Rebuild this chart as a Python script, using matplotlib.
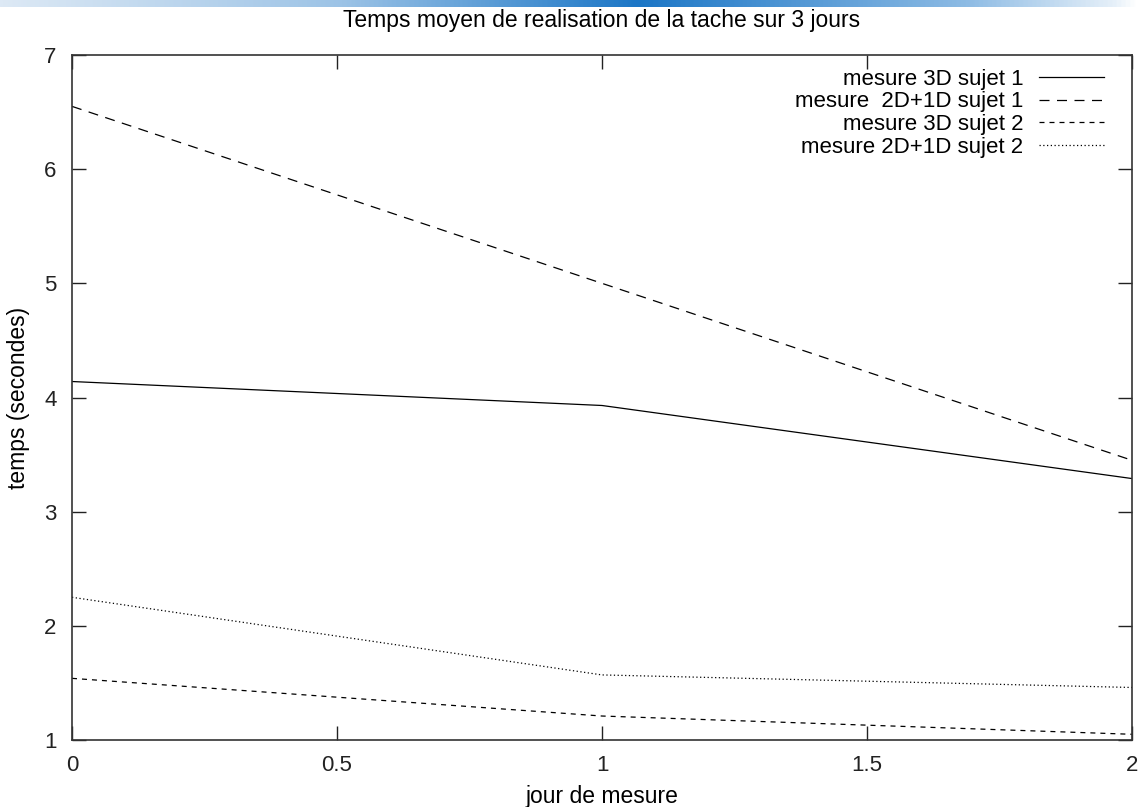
import numpy as np
import matplotlib.pyplot as plt
from matplotlib.colors import LinearSegmentedColormap

plt.rcParams['font.family'] = ['Liberation Sans', 'DejaVu Sans']

# jours de mesure
jours = [0, 1, 2]
# temps moyen (secondes)
t_3d_s1 = [4.14, 3.93, 3.29]
t_2d1d_s1 = [6.55, 5.00, 3.45]
t_3d_s2 = [1.54, 1.21, 1.05]
t_2d1d_s2 = [2.25, 1.57, 1.46]

labels = ['mesure 3D sujet 1', 'mesure  2D+1D sujet 1',
          'mesure 3D sujet 2', 'mesure 2D+1D sujet 2']
xticks = [0, 0.5, 1, 1.5, 2]
yticks = [1, 2, 3, 4, 5, 6, 7]

fig = plt.figure(figsize=(11.39, 8.07), dpi=100)

# bandeau bleu en haut
bar = fig.add_axes([0, 1 - 7 / 807, 1, 7 / 807])
cmap = LinearSegmentedColormap.from_list(
    'banner', [(0, '#dde9f5'), (0.3, '#9cc3e6'), (0.56, '#1b76c6'),
               (0.85, '#8dbbe4'), (0.98, '#e6f0f9'), (1, 'white')])
bar.imshow(np.linspace(0, 1, 512)[None, :], aspect='auto', cmap=cmap)
bar.axis('off')

ax = fig.add_axes([72 / 1139, 1 - 740 / 807, (1132 - 72) / 1139, (740 - 55) / 807])
lw = 0.9
ax.plot(jours, t_3d_s1, color='black', lw=lw, label=labels[0])
ax.plot(jours, t_2d1d_s1, color='black', lw=lw, dashes=(8, 6), label=labels[1])
ax.plot(jours, t_3d_s2, color='black', lw=lw, dashes=(4, 4), label=labels[2])
ax.plot(jours, t_2d1d_s2, color='black', lw=lw, dashes=(1, 2), label=labels[3])

ax.set_xlim(0, 2)
ax.set_ylim(1, 7)
ax.set_xticks(xticks)
ax.set_xticklabels(['0', '0.5', '1', '1.5', '2'])
ax.set_yticks(yticks)
ax.tick_params(direction='in', length=10, width=1, top=True, right=True,
               labelsize=16, pad=11, colors='#222222')
for s in ax.spines.values():
    s.set_linewidth(1.2)
    s.set_color('#333333')

ax.text(0.5, 1 + 35 / 685, 'Temps moyen de realisation de la tache sur 3 jours',
        transform=ax.transAxes, ha='center', va='center', fontsize=16.5)
ax.set_xlabel('jour de mesure', fontsize=16.5, labelpad=6)
ax.set_ylabel('temps (secondes)', fontsize=16.5, labelpad=10)

ax.legend(loc='upper right', frameon=False, markerfirst=False, fontsize=16,
          handlelength=2.9, handletextpad=0.7, labelspacing=0.08,
          borderaxespad=0.4, bbox_to_anchor=(0.99, 1.006))

fig.savefig('out.png', dpi=100)
